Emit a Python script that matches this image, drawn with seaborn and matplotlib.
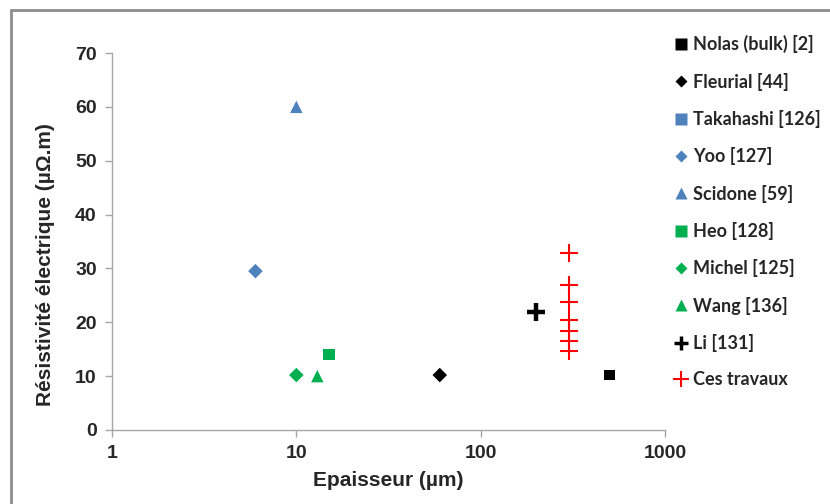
import pandas as pd
import matplotlib
matplotlib.use("Agg")
import matplotlib.pyplot as plt
import matplotlib.ticker as ticker
from matplotlib.lines import Line2D
import seaborn as sns

# donnees
series = ['Nolas (bulk) [2]', 'Fleurial [44]', 'Takahashi [126]', 'Yoo [127]',
          'Scidone [59]', 'Heo [128]', 'Michel [125]', 'Wang [136]',
          'Li [131]', 'Ces travaux']
epaisseur = [[500], [60], [], [6], [10], [15], [10], [13], [200],
             [300, 300, 300, 300, 300, 300, 300]]
resistivite = [[10.2], [10.2], [], [29.5], [60], [14], [10.2], [10], [22],
               [32.9, 27.0, 23.8, 20.5, 18.4, 16.6, 14.7]]

bleu = '#4F81BD'
vert = '#00B050'
couleurs = ['black', 'black', bleu, bleu, bleu, vert, vert, vert, 'black', 'red']
marqueurs = ['s', 'D', 's', 'D', '^', 's', 'D', '^', 'P', '+']
tailles = [55, 55, 70, 55, 80, 70, 55, 80, 0, 150]

rows = []
for nom, xs, ys in zip(series, epaisseur, resistivite):
    for x, y in zip(xs, ys):
        rows.append({'serie': nom, 'x': x, 'y': y})
df = pd.DataFrame(rows)

sns.set_style('white')
plt.rcParams['font.family'] = ['Liberation Sans', 'DejaVu Sans']

fig = plt.figure(figsize=(8.3, 5.04), dpi=100)
ax = fig.add_axes([112/830, 1-430/504, (665-112)/830, (430-53)/504])

for nom, c, m, s in zip(series, couleurs, marqueurs, tailles):
    sub = df[df['serie'] == nom]
    if len(sub) == 0:
        continue
    if nom == 'Li [131]':
        ax.plot(sub['x'], sub['y'], marker='+', ms=13, mew=3.2, color=c, ls='none')
    elif m == '+':
        ax.plot(sub['x'], sub['y'], marker='+', ms=13, mew=1.5, color=c, ls='none')
    else:
        sns.scatterplot(data=sub, x='x', y='y', ax=ax, color=c, marker=m, s=s,
                        edgecolor='none', legend=False)

ax.set_xscale('log')
ax.set_xlim(1, 1000)
ax.set_ylim(0, 70)
ax.set_yticks(range(0, 71, 10))
ax.set_xticks([1, 10, 100, 1000])
ax.xaxis.set_major_formatter(ticker.FuncFormatter(lambda v, p: '%d' % v))
ax.xaxis.set_minor_locator(ticker.NullLocator())

gris = '#A6A6A6'
for side in ['top', 'right']:
    ax.spines[side].set_visible(False)
for side in ['left', 'bottom']:
    ax.spines[side].set_color(gris)
    ax.spines[side].set_linewidth(1)
ax.tick_params(axis='both', direction='out', length=5, width=1, color=gris,
               labelsize=14, pad=6, left=True, bottom=True)
for lab in ax.get_xticklabels() + ax.get_yticklabels():
    lab.set_fontweight('bold')

ax.set_xlabel('Epaisseur (µm)', fontsize=15, fontweight='bold', labelpad=6)
ax.set_ylabel('Résistivité électrique (µΩ.m)', fontsize=15, fontweight='bold')
ax.yaxis.set_label_coords(-0.103, 0.44)

# legende
handles = []
for nom, c, m in zip(series, couleurs, marqueurs):
    if nom == 'Li [131]':
        h = Line2D([], [], marker='+', color=c, ls='none', ms=10, mew=2.5)
    elif m == '+':
        h = Line2D([], [], marker='+', color=c, ls='none', ms=12, mew=1.5)
    elif m == 'D':
        h = Line2D([], [], marker='D', color=c, ls='none', ms=6, mec='none')
    else:
        h = Line2D([], [], marker=m, color=c, ls='none', ms=8.5, mec='none')
    handles.append(h)
fig.legend(handles, series, loc='upper left', bbox_to_anchor=(659/830, 1-19/504),
           frameon=False, handlelength=0.6, handletextpad=0.4, labelspacing=1.07,
           prop={'family': ['Lato', 'DejaVu Sans'], 'weight': 'bold', 'size': 13})

# cadre du graphique
fig.add_artist(Line2D([11/830, 11/830], [0, 1-10/504], color='#8C8C8C', lw=2))
fig.add_artist(Line2D([11/830, 1], [1-10/504, 1-10/504], color='#8C8C8C', lw=2))

fig.savefig('out.png', dpi=100)
